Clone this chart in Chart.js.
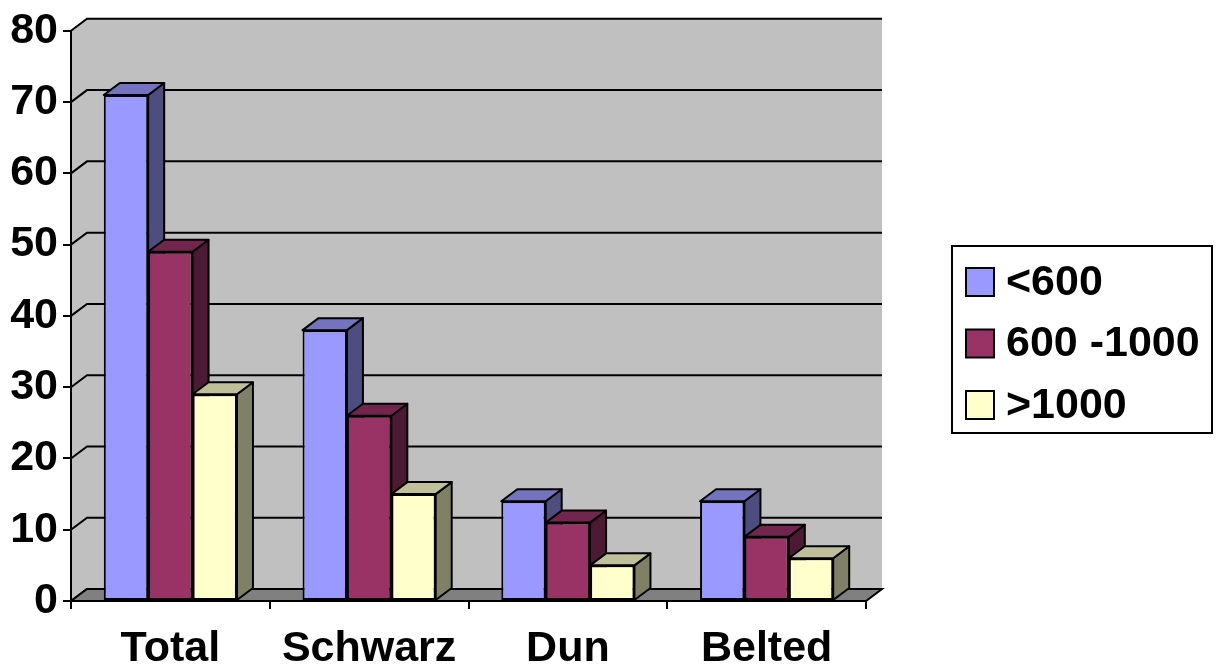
<!DOCTYPE html>
<html>
<head>
<meta charset="utf-8">
<style>
  html, body { margin: 0; padding: 0; background: #fff; }
  canvas { display: block; }
</style>
<script src="https://cdn.jsdelivr.net/npm/chart.js@4/dist/chart.umd.min.js"></script>
</head>
<body>
<canvas id="chart" width="1218" height="665"></canvas>
<script>
const categories = ['Total', 'Schwarz', 'Dun', 'Belted']
const under600 = [71, 38, 14, 14]
const mid600to1000 = [49, 26, 11, 9]
const over1000 = [29, 15, 5, 6]

const seriesNames = ['<600', '600 -1000', '>1000']
const fronts = ['#9999FF', '#993366', '#FFFFCC']
const tops = ['#7373BF', '#73264D', '#BFBF99']
const sides = ['#4D4D80', '#4D1A33', '#808066']

const fontFamily = '"Liberation Sans", Arial, sans-serif'
const dx = 16
const dy = 12

function face(ctx, pts, fill) {
  ctx.beginPath()
  pts.forEach((p, i) => (i ? ctx.lineTo(p[0], p[1]) : ctx.moveTo(p[0], p[1])))
  ctx.closePath()
  ctx.fillStyle = fill
  ctx.fill()
  ctx.stroke()
}

// back wall, side wall and floor behind the axes
const walls = {
  id: 'walls',
  beforeDraw(chart) {
    const { ctx, chartArea: a, scales } = chart
    const y = scales.y
    ctx.save()
    ctx.fillStyle = '#C0C0C0'
    ctx.beginPath()
    ctx.moveTo(a.left, a.top)
    ctx.lineTo(a.left + dx, a.top - dy)
    ctx.lineTo(a.right + dx, a.top - dy)
    ctx.lineTo(a.right + dx, a.bottom - dy)
    ctx.lineTo(a.left, a.bottom)
    ctx.closePath()
    ctx.fill()

    ctx.strokeStyle = '#000'
    ctx.lineWidth = 2
    y.ticks.forEach((t) => {
      const py = y.getPixelForValue(t.value)
      ctx.beginPath()
      ctx.moveTo(a.left, py)
      ctx.lineTo(a.left + dx, py - dy)
      ctx.lineTo(a.right + dx, py - dy)
      ctx.stroke()
    })

    face(ctx, [
      [a.left, a.bottom],
      [a.left + dx, a.bottom - dy],
      [a.right + dx, a.bottom - dy],
      [a.right, a.bottom]
    ], '#808080')
    ctx.restore()
  },
  // native bars are skipped, they get redrawn in order with their depth faces
  beforeDatasetDraw() {
    return false
  },
  afterDatasetsDraw(chart) {
    const { ctx } = chart
    chart.data.datasets.forEach((ds, i) => {
      const meta = chart.getDatasetMeta(i)
      meta.data.forEach((bar) => {
        const l = bar.x - bar.width / 2
        const r = bar.x + bar.width / 2
        ctx.save()
        ctx.strokeStyle = '#000'
        ctx.lineWidth = 2
        ctx.lineJoin = 'round'
        face(ctx, [[r, bar.y], [r + dx, bar.y - dy], [r + dx, bar.base - dy], [r, bar.base]], sides[i])
        face(ctx, [[l, bar.y], [l + dx, bar.y - dy], [r + dx, bar.y - dy], [r, bar.y]], tops[i])
        ctx.restore()
      })
      meta.controller.draw()
    })
  },
  afterDraw(chart) {
    const { ctx } = chart
    ctx.save()
    ctx.strokeStyle = '#000'
    ctx.lineWidth = 2
    ctx.fillStyle = '#fff'
    ctx.fillRect(952, 246, 260, 187)
    ctx.strokeRect(952, 246, 260, 187)
    ctx.font = 'bold 43px ' + fontFamily
    ctx.textBaseline = 'middle'
    chart.data.datasets.forEach((ds, i) => {
      const cy = 282 + i * 61.5
      ctx.fillStyle = ds.backgroundColor
      ctx.fillRect(966, cy - 14, 28, 28)
      ctx.strokeRect(966, cy - 14, 28, 28)
      ctx.fillStyle = '#000'
      ctx.fillText(ds.label, 1006, cy + 1)
    })
    ctx.restore()
  }
}

new Chart(document.getElementById('chart'), {
  type: 'bar',
  plugins: [walls],
  data: {
    labels: categories,
    datasets: [
      { label: seriesNames[0], data: under600, backgroundColor: fronts[0] },
      { label: seriesNames[1], data: mid600to1000, backgroundColor: fronts[1] },
      { label: seriesNames[2], data: over1000, backgroundColor: fronts[2] }
    ]
  },
  options: {
    responsive: false,
    animation: false,
    layout: {
      autoPadding: false,
      padding: { top: 30.5, right: 352, left: 0, bottom: 0 }
    },
    datasets: {
      bar: {
        barPercentage: 1,
        categoryPercentage: 0.67,
        borderColor: '#000',
        borderWidth: 2,
        borderSkipped: false
      }
    },
    scales: {
      x: {
        afterFit: (s) => { s.height = 64 },
        border: { color: '#000', width: 2 },
        grid: { drawOnChartArea: false, color: '#000', lineWidth: 2, tickLength: 8 },
        ticks: {
          color: '#000',
          padding: 14,
          maxRotation: 0,
          font: { family: fontFamily, weight: 'bold', size: 43 }
        }
      },
      y: {
        min: 0,
        max: 80,
        afterFit: (s) => { s.width = 71 },
        border: { color: '#000', width: 2 },
        grid: { drawOnChartArea: false, color: '#000', lineWidth: 2, tickLength: 8 },
        ticks: {
          stepSize: 10,
          color: '#000',
          padding: 5,
          font: { family: fontFamily, weight: 'bold', size: 43 }
        }
      }
    },
    plugins: {
      legend: { display: false },
      title: { display: false },
      tooltip: { enabled: false }
    }
  }
})
</script>
</body>
</html>
